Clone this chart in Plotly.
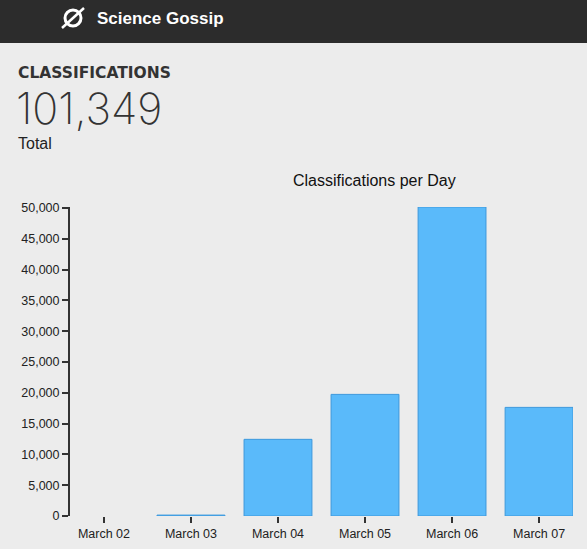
import plotly.graph_objects as go

days = ["March 02", "March 03", "March 04", "March 05", "March 06", "March 07"]
classifications = [0, 150, 12450, 19750, 50180, 17640]
total = 101349
y_ticks = [0, 5000, 10000, 15000, 20000, 25000, 30000, 35000, 40000, 45000, 50000]

W, H = 587, 549
L, R, T, B = 70, 14, 207, 33
pw, ph = W - L - R, H - T - B


def px_x(x):
    return (x - L) / pw


def px_y(y):
    return (H - B - y) / ph


# no outline on empty bars (d3 draws nothing for a zero-height rect)
outline = [0 if v == 0 else 1 for v in classifications]

fig = go.Figure(
    go.Bar(
        x=days,
        y=classifications,
        marker=dict(color="#5abafa", line=dict(color="#3d98dc", width=outline)),
        hoverinfo="x+y",
    )
)

font = "Liberation Sans, Arial, sans-serif"

fig.update_layout(
    width=W,
    height=H,
    margin=dict(l=L, r=R, t=T, b=B, autoexpand=False),
    paper_bgcolor="#ececec",
    plot_bgcolor="#ececec",
    bargap=0.22,
    showlegend=False,
    font=dict(family=font, size=12.5, color="#222"),
)

fig.update_xaxes(
    range=[-0.39, 5.39],
    automargin=False,
    showgrid=False,
    showline=False,
    zeroline=False,
    ticks="outside",
    ticklen=6,
    tickwidth=2,
    tickcolor="#333",
    tickfont=dict(size=12.5, color="#222"),
)
fig.update_yaxes(
    range=[0, max(classifications)],
    automargin=False,
    tickvals=y_ticks,
    tickformat=",",
    showgrid=False,
    zeroline=False,
    showline=True,
    linewidth=2,
    linecolor="#333",
    ticks="outside",
    ticklen=6,
    tickwidth=2,
    tickcolor="#333",
    tickfont=dict(size=12.5, color="#222"),
)

# header bar and logo
fig.add_shape(type="rect", xref="paper", yref="paper",
              x0=px_x(0), x1=px_x(W), y0=px_y(43), y1=px_y(0),
              fillcolor="#2c2c2c", line=dict(width=0), layer="below")
fig.add_shape(type="circle", xref="paper", yref="paper",
              x0=px_x(65), x1=px_x(81), y0=px_y(26), y1=px_y(10),
              line=dict(color="white", width=3))
fig.add_shape(type="line", xref="paper", yref="paper",
              x0=px_x(62), x1=px_x(84), y0=px_y(28), y1=px_y(8),
              line=dict(color="white", width=2.5))

texts = [
    dict(text="<b>Science Gossip</b>", x=95, y=18, size=17, color="white", family=font, weight=None),
    dict(text="<b>CLASSIFICATIONS</b>", x=16, y=73, size=15.5, color="#333", family="DejaVu Sans, sans-serif", weight=None),
    dict(text=f"{total:,}", x=14, y=108, size=43, color="#333", family="Inter, Lato, sans-serif", weight=200),
    dict(text="Total", x=16, y=143, size=16, color="#222", family=font, weight=None),
]
for t in texts:
    f = dict(family=t["family"], size=t["size"], color=t["color"])
    if t["weight"]:
        f["weight"] = t["weight"]
    fig.add_annotation(
        text=t["text"], xref="paper", yref="paper",
        x=px_x(t["x"]), y=px_y(t["y"]),
        xanchor="left", yanchor="middle",
        showarrow=False, font=f,
    )

fig.add_annotation(
    text="Classifications per Day", xref="paper", yref="paper",
    x=px_x(374), y=px_y(181), xanchor="center", yanchor="middle",
    showarrow=False, font=dict(family=font, size=16, color="#111"),
)

fig.write_html(
    "out.html",
    config={"displayModeBar": False},
    post_script="document.body.style.margin='0';",
)
